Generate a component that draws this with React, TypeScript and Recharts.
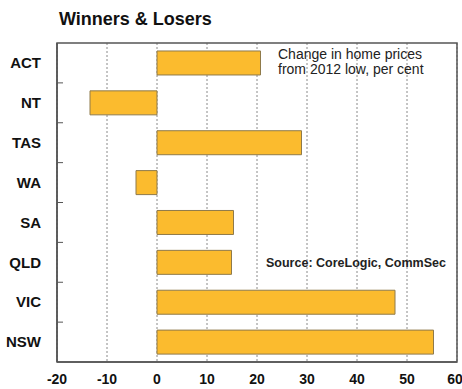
import React from 'react';
import { BarChart, Bar, XAxis, YAxis, CartesianGrid, ReferenceArea } from 'recharts';

const states = ['ACT', 'NT', 'TAS', 'WA', 'SA', 'QLD', 'VIC', 'NSW'];
const priceChange = [20.7, -13.4, 28.9, -4.2, 15.3, 14.9, 47.6, 55.3];
const xTicks = [-20, -10, 0, 10, 20, 30, 40, 50, 60];

const data = states.map((state, i) => ({ state, change: priceChange[i] }));

const font = 'Arial, "Liberation Sans", Helvetica, sans-serif';
const frame = '#555555';
const labelGap = 16;

// state label plus the little inward tick on the boundary below each row
const StateTick = (props: any) => {
    const { x, y, payload, index } = props;
    const half = payload.offset || 0;
    const edge = x + labelGap;
    return (
        <g>
            <text x={x} y={y} dy="0.35em" textAnchor="end" fill="#111" fontSize={15} fontWeight="bold" fontFamily={font}>
                {payload.value}
            </text>
            {index < states.length - 1 && (
                <line x1={edge} x2={edge + 6} y1={y + half} y2={y + half} stroke={frame} strokeWidth={1} />
            )}
        </g>
    );
};

const App: React.FC = () => {
    return (
        <div style={{ position: 'absolute', left: 0, top: 0, width: 462, height: 389, background: '#fff', fontFamily: font }}>
            <div style={{ position: 'absolute', left: 59, top: 9, fontSize: 18, fontWeight: 'bold', color: '#111' }}>
                Winners &amp; Losers
            </div>
            <BarChart
                width={462}
                height={389}
                data={data}
                layout="vertical"
                barCategoryGap="20%"
                margin={{ top: 43, right: 5, bottom: 0, left: 0 }}
            >
                <CartesianGrid horizontal={false} vertical stroke="#8a8a8a" strokeWidth={1} strokeDasharray="2 2" />
                <XAxis
                    type="number"
                    domain={[-20, 60]}
                    ticks={xTicks}
                    allowDataOverflow
                    height={27}
                    tickLine={false}
                    tickMargin={6}
                    axisLine={{ stroke: frame, strokeWidth: 1.5 }}
                    tick={{ fill: '#111', fontSize: 14, fontWeight: 'bold', fontFamily: font }}
                />
                <YAxis
                    type="category"
                    dataKey="state"
                    width={57}
                    tickLine={false}
                    tickSize={0}
                    tickMargin={labelGap}
                    axisLine={{ stroke: frame, strokeWidth: 1.5 }}
                    tick={<StateTick />}
                />
                <ReferenceArea x1={-20} x2={60} fill="none" stroke={frame} strokeWidth={1.5} ifOverflow="visible" />
                <Bar dataKey="change" fill="#FBBB2E" stroke="#8f7a4a" strokeWidth={1} isAnimationActive={false} />
            </BarChart>
            <div style={{ position: 'absolute', left: 278, top: 47, fontSize: 14, lineHeight: '15px', color: '#222' }}>
                Change in home prices<br />from 2012 low, per cent
            </div>
            <div style={{ position: 'absolute', left: 266, top: 256, fontSize: 12.5, fontWeight: 'bold', color: '#222' }}>
                Source: CoreLogic, CommSec
            </div>
        </div>
    );
};

export default App;
